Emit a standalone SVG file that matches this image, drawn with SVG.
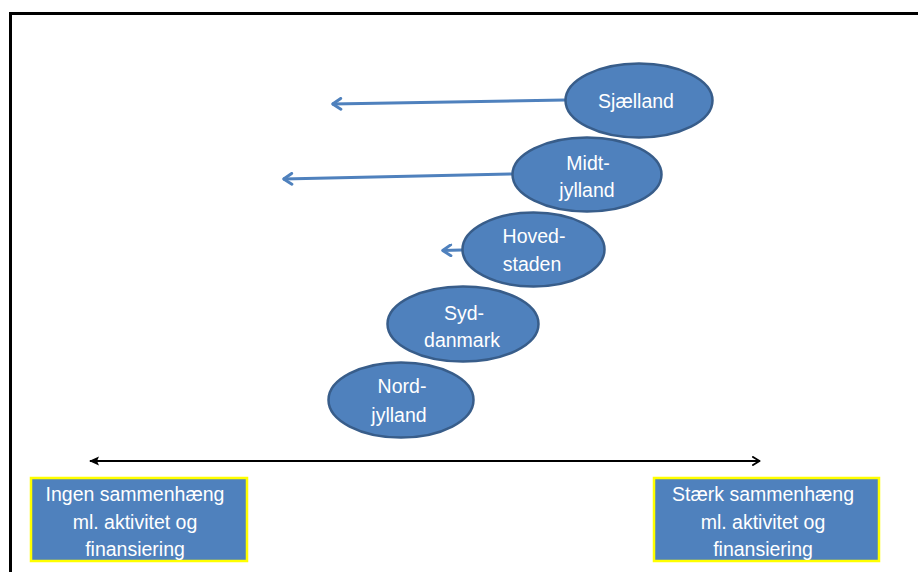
<svg xmlns="http://www.w3.org/2000/svg" width="918" height="572" viewBox="0 0 918 572">
<defs>
<style>
.reg{fill:#4F81BD;stroke:#385D8A;stroke-width:2.5}
.lbl{fill:#FFFFFF;font-family:"Liberation Sans",Arial,sans-serif;font-size:19.5px;text-anchor:middle}
.box{fill:#4F81BD;stroke:#FFFF00;stroke-width:2.5}
.blue{stroke:#4F81BD;stroke-width:3;fill:none;marker-end:url(#chevB)}
</style>
<marker id="chevB" viewBox="0 0 10 10" refX="8.5" refY="5" markerWidth="4.5" markerHeight="4.5" orient="auto" markerUnits="strokeWidth">
<path d="M2,1 L8,5 L2,9" fill="none" stroke="#4F81BD" stroke-width="2.2" stroke-linecap="round" stroke-linejoin="round"/>
</marker>
<marker id="triK" viewBox="0 0 10 10" refX="9" refY="5" markerWidth="5" markerHeight="5" orient="auto-start-reverse" markerUnits="strokeWidth">
<path d="M10,5 L0,0.5 L2,5 L0,9.5 Z" fill="#000"/>
</marker>
<marker id="chevK" viewBox="0 0 10 10" refX="9" refY="5" markerWidth="5" markerHeight="5" orient="auto" markerUnits="strokeWidth">
<path d="M2,1 L8.5,5 L2,9" fill="none" stroke="#000" stroke-width="2" stroke-linecap="round" stroke-linejoin="round"/>
</marker>
</defs>
<rect x="0" y="0" width="918" height="572" fill="#FFFFFF"/>
<path d="M10.5,574 L10.5,13.5 L920,13.5" fill="none" stroke="#000" stroke-width="3"/>
<g id="connectors">
<line class="blue" x1="565" y1="100" x2="332" y2="104"/>
<line class="blue" x1="512" y1="174" x2="283" y2="179"/>
<line class="blue" x1="462" y1="250" x2="442" y2="250.5"/>
<line x1="90" y1="461" x2="760" y2="461" stroke="#000" stroke-width="2" marker-start="url(#triK)" marker-end="url(#chevK)"/>
</g>
<g id="sjaelland">
<ellipse class="reg" cx="639" cy="100.5" rx="73.5" ry="37"/>
<text class="lbl" x="636" y="108">Sjælland</text>
</g>
<g id="midtjylland">
<ellipse class="reg" cx="587" cy="174.5" rx="74.5" ry="37"/>
<text class="lbl" x="588" y="170">Midt-</text>
<text class="lbl" x="587" y="197">jylland</text>
</g>
<g id="hovedstaden">
<ellipse class="reg" cx="533.5" cy="249.5" rx="71" ry="37"/>
<text class="lbl" x="534" y="243">Hoved-</text>
<text class="lbl" x="532" y="271">staden</text>
</g>
<g id="syddanmark">
<ellipse class="reg" cx="463" cy="324" rx="75.5" ry="37.5"/>
<text class="lbl" x="464" y="320">Syd-</text>
<text class="lbl" x="462" y="347">danmark</text>
</g>
<g id="nordjylland">
<ellipse class="reg" cx="401" cy="400" rx="72.5" ry="37.5"/>
<text class="lbl" x="402" y="393">Nord-</text>
<text class="lbl" x="399" y="422">jylland</text>
</g>
<g id="ingen">
<rect class="box" x="31" y="478" width="216" height="83"/>
<text class="lbl" x="135" y="501">Ingen sammenhæng</text>
<text class="lbl" x="135" y="529">ml. aktivitet og</text>
<text class="lbl" x="135" y="556">finansiering</text>
</g>
<g id="staerk">
<rect class="box" x="654" y="478" width="225" height="83"/>
<text class="lbl" x="763" y="501">Stærk sammenhæng</text>
<text class="lbl" x="763" y="529">ml. aktivitet og</text>
<text class="lbl" x="763" y="556">finansiering</text>
</g>
</svg>
